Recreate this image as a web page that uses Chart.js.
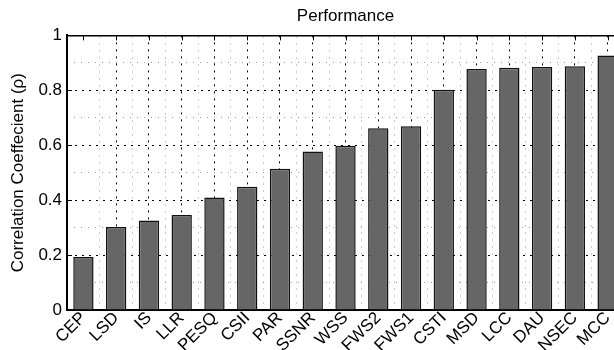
<!DOCTYPE html>
<html>
<head>
<meta charset="utf-8">
<script src="https://cdn.jsdelivr.net/npm/chart.js@4/dist/chart.umd.min.js"></script>
<style>
  html, body { margin: 0; padding: 0; background: #fff; overflow: hidden; }
  #wrap { position: relative; width: 624px; height: 350px; }
</style>
</head>
<body>
<div id="wrap"><canvas id="c"></canvas></div>
<script>
const categories = ['CEP','LSD','IS','LLR','PESQ','CSII','PAR','SSNR','WSS','FWS2','FWS1','CSTI','MSD','LCC','DAU','NSEC','MCC'];
const correlation = [0.193,0.302,0.326,0.346,0.410,0.449,0.514,0.577,0.598,0.662,0.669,0.802,0.878,0.882,0.885,0.888,0.927];
const yTickLabels = ['0','0.2','0.4','0.6','0.8','1'];
const chartTitle = 'Performance';
const yTitle = 'Correlation Coeffecient (\u03c1)';

const FONT = "'Liberation Sans', Arial, Helvetica, sans-serif";
const MAJOR = '#000000';
const MINOR = '#9a9a9a';

const isMajorY = v => Math.abs(Math.round(v * 5) - v * 5) < 1e-6;

const innerTicks = {
  id: 'innerTicks',
  afterDraw(chart) {
    const { ctx, chartArea: a, scales } = chart;
    const x = scales.x, y = scales.y;
    ctx.save();
    ctx.strokeStyle = '#000';
    ctx.lineWidth = 1;
    ctx.beginPath();
    categories.forEach((c, i) => {
      const px = Math.round(x.getPixelForValue(i)) + 0.5;
      ctx.moveTo(px, a.top);
      ctx.lineTo(px, a.top + 5);
    });
    y.ticks.forEach(t => {
      const py = Math.round(y.getPixelForValue(t.value)) + 0.5;
      ctx.moveTo(a.left, py);
      ctx.lineTo(a.left + 5, py);
    });
    ctx.stroke();
    ctx.restore();
  }
};

new Chart(document.getElementById('c'), {
  type: 'bar',
  data: {
    labels: categories,
    datasets: [{
      data: correlation,
      backgroundColor: '#666666',
      borderColor: '#111111',
      borderWidth: 1.5,
      borderSkipped: 'bottom',
      barPercentage: 0.62,
      categoryPercentage: 1.0
    }]
  },
  options: {
    responsive: true,
    maintainAspectRatio: false,
    animation: false,
    devicePixelRatio: 1,
    layout: { padding: { left: 8, top: 6, right: 0, bottom: 0 } },
    plugins: {
      legend: { display: false },
      tooltip: { enabled: false },
      title: { display: false }
    },
    scales: {
      x: {
        type: 'category',
        position: 'bottom',
        offset: true,
        grid: {
          offset: false,
          drawTicks: false,
          color: ctx => (ctx.index === 0 ? 'rgba(0,0,0,0)' : MAJOR),
          lineWidth: 1
        },
        border: { display: true, color: '#000', width: 2, dash: [2, 5] },
        ticks: {
          color: '#000',
          font: { family: FONT, size: 17 },
          minRotation: 45,
          maxRotation: 45,
          autoSkip: false,
          padding: -2
        },
        afterFit: s => { s.height = 40; }
      },
      x2: {
        type: 'category',
        position: 'top',
        labels: categories,
        offset: true,
        grid: {
          offset: true,
          drawTicks: false,
          color: MINOR,
          lineWidth: 1
        },
        border: { display: true, color: '#000', width: 1.5, dash: [1, 6] },
        ticks: { display: false },
        title: {
          display: true,
          text: chartTitle,
          color: '#000',
          font: { family: FONT, size: 17 },
          padding: { top: 0, bottom: 9 }
        }
      },
      y: {
        type: 'linear',
        position: 'left',
        min: 0,
        max: 1,
        grid: {
          drawTicks: false,
          color: MAJOR,
          lineWidth: 1
        },
        border: { display: true, color: '#000', width: 2, dash: [2, 5] },
        ticks: {
          stepSize: 0.2,
          color: '#000',
          font: { family: FONT, size: 17 },
          padding: 5,
          callback: (v, i) => yTickLabels[i]
        },
        title: {
          display: true,
          text: yTitle,
          color: '#000',
          font: { family: FONT, size: 17 },
          padding: { top: 0, bottom: 5 }
        }
      },
      y2: {
        type: 'linear',
        position: 'left',
        min: 0,
        max: 1,
        grid: {
          drawTicks: false,
          color: ctx => (ctx.tick && isMajorY(ctx.tick.value) ? 'rgba(0,0,0,0)' : MINOR),
          lineWidth: 1
        },
        border: { display: false, dash: [1, 6] },
        ticks: { display: false, stepSize: 0.1 },
        afterFit: s => { s.width = 0; }
      }
    }
  },
  plugins: [innerTicks]
});
</script>
</body>
</html>
